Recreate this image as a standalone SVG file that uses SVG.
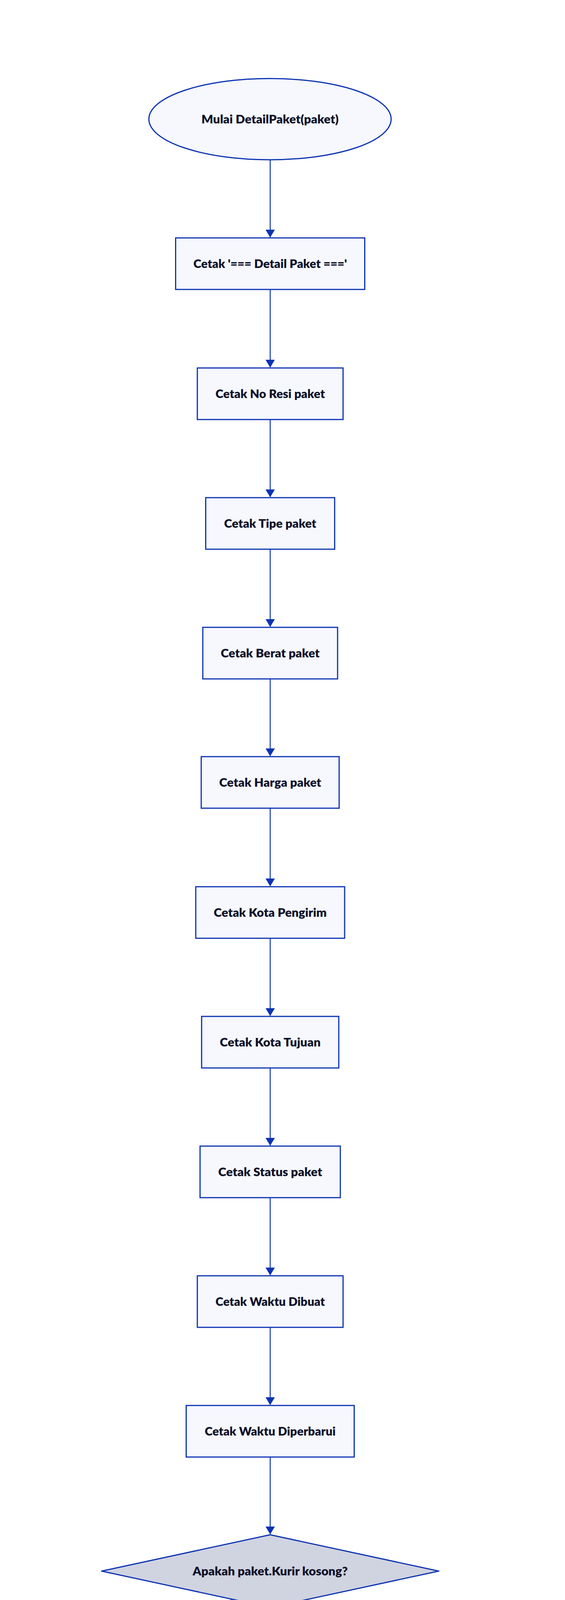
<svg xmlns="http://www.w3.org/2000/svg" width="1446" height="5676" viewBox="0 0 1446 5676">
<defs>
<marker id="arrow" markerUnits="userSpaceOnUse" markerWidth="20" markerHeight="24" viewBox="0 0 20 24" refX="19" refY="12" orient="auto">
<path d="M0,0 L20,12 L0,24 z" fill="#0c33b3"/>
</marker>
<style>
.box{fill:#f6f8fd;stroke:#0c33b3;stroke-width:3}
.dec{fill:#d0d3e0;stroke:#0c33b3;stroke-width:3;stroke-linejoin:round}
.lbl{font-family:Lato,"Noto Sans",sans-serif;font-weight:800;font-size:31px;fill:#0f1229;text-anchor:middle}
.edge{fill:none;stroke:#0c33b3;stroke-width:2.5;marker-end:url(#arrow)}
.elbl{font-family:Lato,"Noto Sans",sans-serif;font-style:italic;font-weight:400;font-size:30px;fill:#6a6a7e;text-anchor:middle}
</style>
</defs>
<rect width="1446" height="5676" fill="#ffffff"/>
<g id="connectors">
<path class="edge" d="M691.5,409 L691.5,607"/>
<path class="edge" d="M691.5,741 L691.5,940"/>
<path class="edge" d="M691.5,1074 L691.5,1272"/>
<path class="edge" d="M691.5,1406 L691.5,1604"/>
<path class="edge" d="M691.5,1738 L691.5,1935"/>
<path class="edge" d="M691.5,2069 L691.5,2268"/>
<path class="edge" d="M691.5,2402 L691.5,2600"/>
<path class="edge" d="M691.5,2734 L691.5,2932"/>
<path class="edge" d="M691.5,3066 L691.5,3264"/>
<path class="edge" d="M691.5,3398 L691.5,3596"/>
<path class="edge" d="M691.5,3730 L691.5,3927"/>
<path class="edge" d="M592,4095 C520,4180 411,4240 411,4354"/>
<path class="edge" d="M789,4097 C861,4180 972,4240 972,4354"/>
<path class="edge" d="M411,4488 C411,4610 490,4640 567,4686"/>
<path class="edge" d="M972,4488 C972,4610 893,4640 814,4686"/>
<path class="edge" d="M691.5,4820 L691.5,5017"/>
<path class="edge" d="M691.5,5151 L691.5,5349"/>
<g id="edge-labels">
<rect x="369" y="4178" width="176" height="43" fill="#ffffff"/>
<text class="elbl" x="457" y="4210" textLength="172" lengthAdjust="spacingAndGlyphs">Tidak kosong</text>
<rect x="878" y="4180" width="100" height="43" fill="#ffffff"/>
<text class="elbl" x="928" y="4212" textLength="96" lengthAdjust="spacingAndGlyphs">Kosong</text>
</g>
</g>
<g id="start">
<ellipse class="box" cx="691" cy="305" rx="310" ry="104"/>
<text class="lbl" x="691" y="316" textLength="351" lengthAdjust="spacingAndGlyphs">Mulai DetailPaket(paket)</text>
</g>
<g id="n0">
<rect class="box" x="449.5" y="609" width="484" height="132"/>
<text class="lbl" x="691.5" y="686" textLength="393" lengthAdjust="spacingAndGlyphs">Cetak '=== Detail Paket ==='</text>
</g>
<g id="n1">
<rect class="box" x="505" y="942" width="373" height="132"/>
<text class="lbl" x="691.5" y="1019" textLength="280" lengthAdjust="spacingAndGlyphs">Cetak No Resi paket</text>
</g>
<g id="n2">
<rect class="box" x="526.5" y="1274" width="330" height="132"/>
<text class="lbl" x="691.5" y="1351" textLength="236" lengthAdjust="spacingAndGlyphs">Cetak Tipe paket</text>
</g>
<g id="n3">
<rect class="box" x="519" y="1606" width="345" height="132"/>
<text class="lbl" x="691.5" y="1683" textLength="253" lengthAdjust="spacingAndGlyphs">Cetak Berat paket</text>
</g>
<g id="n4">
<rect class="box" x="515" y="1937" width="353" height="132"/>
<text class="lbl" x="691.5" y="2014" textLength="261" lengthAdjust="spacingAndGlyphs">Cetak Harga paket</text>
</g>
<g id="n5">
<rect class="box" x="501" y="2270" width="381" height="132"/>
<text class="lbl" x="691.5" y="2347" textLength="289" lengthAdjust="spacingAndGlyphs">Cetak Kota Pengirim</text>
</g>
<g id="n6">
<rect class="box" x="516" y="2602" width="351" height="132"/>
<text class="lbl" x="691.5" y="2679" textLength="258" lengthAdjust="spacingAndGlyphs">Cetak Kota Tujuan</text>
</g>
<g id="n7">
<rect class="box" x="512" y="2934" width="359" height="132"/>
<text class="lbl" x="691.5" y="3011" textLength="266" lengthAdjust="spacingAndGlyphs">Cetak Status paket</text>
</g>
<g id="n8">
<rect class="box" x="505" y="3266" width="373" height="132"/>
<text class="lbl" x="691.5" y="3343" textLength="280" lengthAdjust="spacingAndGlyphs">Cetak Waktu Dibuat</text>
</g>
<g id="n9">
<rect class="box" x="476.5" y="3598" width="430" height="132"/>
<text class="lbl" x="691.5" y="3675" textLength="335" lengthAdjust="spacingAndGlyphs">Cetak Waktu Diperbarui</text>
</g>
<g id="decision">
<polygon class="dec" points="691.5,3929 1123,4022 691.5,4115 260,4022"/>
<text class="lbl" x="691.5" y="4033" textLength="397" lengthAdjust="spacingAndGlyphs">Apakah paket.Kurir kosong?</text>
</g>
<g id="kurir-nama">
<rect class="box" x="240" y="4356" width="342" height="132"/>
<text class="lbl" x="411" y="4433" textLength="248" lengthAdjust="spacingAndGlyphs">Cetak Nama Kurir</text>
</g>
<g id="kurir-kosong">
<rect class="box" x="702" y="4356" width="543" height="132"/>
<text class="lbl" x="973.5" y="4433" textLength="451" lengthAdjust="spacingAndGlyphs">Cetak 'Kurir: Belum Ditugaskan'</text>
</g>
<g id="merge">
<rect class="box" x="201" y="4688" width="979" height="132"/>
<text class="lbl" x="690.5" y="4765" textLength="887" lengthAdjust="spacingAndGlyphs">Cetak 'Paket berhasil ditambahkan.' dan '=== Detail Paket ==='</text>
</g>
<g id="panggil">
<rect class="box" x="423" y="5019" width="537" height="132"/>
<text class="lbl" x="691.5" y="5096" textLength="447" lengthAdjust="spacingAndGlyphs">Panggil utils.EnterToContinue()</text>
</g>
<g id="end">
<ellipse class="box" cx="691" cy="5413" rx="130" ry="62"/>
<text class="lbl" x="691" y="5424" textLength="97" lengthAdjust="spacingAndGlyphs">Selesai</text>
</g>
</svg>
